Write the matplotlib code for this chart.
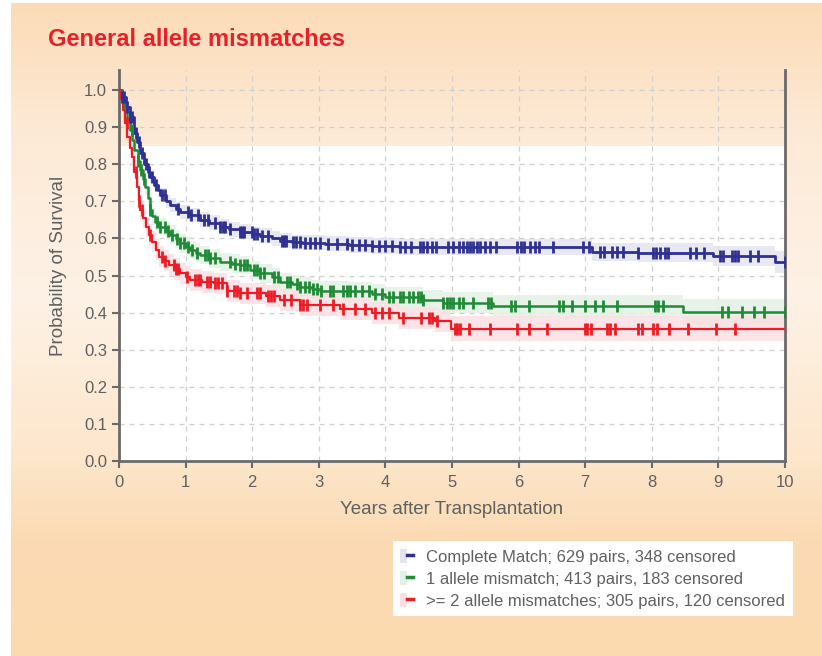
import numpy as np
import matplotlib
matplotlib.use("Agg")
import matplotlib.pyplot as plt
from matplotlib.lines import Line2D
from matplotlib.patches import Patch, Rectangle
from matplotlib.legend_handler import HandlerTuple

plt.rcParams['font.family'] = ['Liberation Sans', 'DejaVu Sans']

# ---- data ----
labels = ["Complete Match; 629 pairs, 348 censored",
          "1 allele mismatch; 413 pairs, 183 censored",
          ">= 2 allele mismatches; 305 pairs, 120 censored"]

match_t = [0, 0.05, 0.1, 0.16, 0.22, 0.27, 0.32, 0.38, 0.43, 0.47, 0.53, 0.58, 0.62,
           0.7, 0.77, 0.85, 0.92, 1.05, 1.22, 1.35, 1.52, 1.65, 1.82, 2.0, 2.12, 2.3,
           2.42, 2.6, 2.75, 3.1, 3.45, 3.8, 4.2, 7.1, 7.79, 8.92, 9.85]
match_s = [1.0, 0.98, 0.955, 0.928, 0.884, 0.86, 0.83, 0.80, 0.78, 0.766, 0.745, 0.73,
           0.717, 0.70, 0.69, 0.68, 0.672, 0.662, 0.65, 0.642, 0.632, 0.625, 0.618, 0.612,
           0.607, 0.600, 0.594, 0.590, 0.588, 0.586, 0.583, 0.580, 0.576, 0.564, 0.562,
           0.553, 0.537]
match_ci = [0.0, 0.005, 0.008, 0.01, 0.012, 0.013, 0.014, 0.015, 0.016, 0.017, 0.017,
            0.018, 0.018, 0.018, 0.019, 0.019, 0.019, 0.019, 0.02, 0.02, 0.02, 0.02, 0.02,
            0.02, 0.02, 0.02, 0.02, 0.02, 0.02, 0.02, 0.021, 0.021, 0.022, 0.024, 0.025,
            0.026, 0.03]
match_cens = [0.05, 0.08, 0.12, 0.16, 0.2, 0.25, 0.3, 0.35, 0.4, 0.45, 0.5, 0.55, 0.64,
              0.69, 0.89, 1.03, 1.08, 1.18, 1.27, 1.34, 1.44, 1.52, 1.56, 1.59, 1.67, 1.82,
              1.85, 1.88, 1.99, 2.03, 2.07, 2.14, 2.24, 2.44, 2.48, 2.51, 2.62, 2.66, 2.72,
              2.79, 2.87, 2.94, 3.02, 3.14, 3.27, 3.42, 3.5, 3.6, 3.7, 3.8, 3.9, 4.0, 4.1,
              4.22, 4.29, 4.39, 4.52, 4.57, 4.63, 4.70, 4.76, 4.94, 5.02, 5.10, 5.17, 5.22,
              5.27, 5.32, 5.37, 5.42, 5.50, 5.57, 5.66, 5.98, 6.03, 6.08, 6.17, 6.25, 6.30,
              6.52, 6.97, 7.06, 7.22, 7.28, 7.40, 7.47, 7.57, 7.80, 8.02, 8.07, 8.12, 8.20,
              8.25, 8.57, 8.67, 8.78, 9.02, 9.07, 9.20, 9.25, 9.30, 9.47, 9.60, 10.0]

one_t = [0, 0.04, 0.08, 0.12, 0.16, 0.2, 0.23, 0.28, 0.32, 0.36, 0.39, 0.43, 0.47, 0.5,
         0.54, 0.58, 0.62, 0.7, 0.77, 0.85, 0.92, 1.0, 1.07, 1.15, 1.22, 1.35, 1.52, 1.7,
         1.82, 1.97, 2.12, 2.3, 2.42, 2.6, 2.72, 2.9, 3.02, 3.45, 3.8, 4.0, 4.56, 4.86,
         5.62, 8.47]
one_s = [1.0, 0.975, 0.946, 0.92, 0.892, 0.865, 0.838, 0.81, 0.784, 0.76, 0.739, 0.71,
         0.677, 0.66, 0.645, 0.638, 0.632, 0.62, 0.61, 0.598, 0.587, 0.578, 0.569, 0.562,
         0.555, 0.546, 0.537, 0.532, 0.528, 0.515, 0.506, 0.495, 0.483, 0.476, 0.47, 0.464,
         0.459, 0.457, 0.45, 0.441, 0.434, 0.427, 0.417, 0.402]
one_ci = [0.0, 0.007, 0.01, 0.013, 0.015, 0.017, 0.018, 0.019, 0.02, 0.021, 0.022, 0.022,
          0.023, 0.023, 0.024, 0.024, 0.024, 0.024, 0.025, 0.025, 0.025, 0.025, 0.025,
          0.025, 0.025, 0.025, 0.025, 0.025, 0.025, 0.025, 0.025, 0.025, 0.025, 0.025,
          0.025, 0.025, 0.025, 0.026, 0.026, 0.027, 0.027, 0.028, 0.03, 0.035]
one_cens = [0.19, 0.29, 0.33, 0.37, 0.47, 0.57, 0.62, 0.69, 0.74, 0.79, 0.87, 0.92, 0.97,
            1.04, 1.09, 1.17, 1.29, 1.33, 1.37, 1.44, 1.67, 1.74, 1.82, 1.87, 1.92, 2.02,
            2.07, 2.12, 2.17, 2.32, 2.39, 2.52, 2.57, 2.67, 2.72, 2.79, 2.85, 2.92, 2.97,
            3.04, 3.17, 3.22, 3.37, 3.42, 3.47, 3.55, 3.65, 3.75, 3.85, 3.95, 4.05, 4.12,
            4.22, 4.27, 4.35, 4.42, 4.49, 4.54, 4.57, 4.87, 4.92, 4.97, 5.02, 5.10, 5.17,
            5.32, 5.54, 5.59, 5.89, 5.95, 6.15, 6.60, 6.67, 6.80, 7.00, 7.15, 7.27, 7.47,
            8.05, 8.10, 8.17, 9.05, 9.15, 9.35, 9.53, 9.68, 10.0]

two_t = [0, 0.03, 0.065, 0.095, 0.125, 0.16, 0.19, 0.23, 0.27, 0.3, 0.32, 0.36, 0.4,
         0.45, 0.5, 0.55, 0.6, 0.67, 0.75, 0.83, 0.92, 1.0, 1.07, 1.25, 1.42, 1.62, 1.82,
         2.2, 2.42, 2.72, 3.32, 3.8, 4.2, 4.75, 4.98]
two_s = [1.0, 0.975, 0.946, 0.91, 0.874, 0.845, 0.82, 0.78, 0.739, 0.70, 0.677, 0.655,
         0.632, 0.61, 0.591, 0.57, 0.551, 0.54, 0.528, 0.517, 0.506, 0.497, 0.488, 0.483,
         0.479, 0.458, 0.452, 0.445, 0.434, 0.42, 0.409, 0.399, 0.386, 0.378, 0.357]
two_ci = [0.0, 0.008, 0.012, 0.015, 0.018, 0.02, 0.022, 0.023, 0.024, 0.025, 0.026,
          0.027, 0.027, 0.028, 0.028, 0.028, 0.029, 0.029, 0.029, 0.029, 0.029, 0.029,
          0.029, 0.029, 0.029, 0.029, 0.029, 0.029, 0.029, 0.03, 0.03, 0.03, 0.03, 0.031,
          0.033]
two_cens = [0.12, 0.26, 0.3, 0.34, 0.47, 0.64, 0.69, 0.82, 0.86, 0.89, 1.02, 1.14, 1.18,
            1.22, 1.32, 1.37, 1.44, 1.49, 1.55, 1.62, 1.72, 1.77, 1.82, 1.92, 2.07, 2.12,
            2.24, 2.28, 2.32, 2.47, 2.59, 2.72, 2.77, 2.82, 3.02, 3.22, 3.37, 3.55, 3.7,
            3.85, 3.95, 4.05, 4.27, 4.54, 4.66, 4.70, 4.77, 5.04, 5.07, 5.12, 5.25, 5.57,
            5.97, 6.15, 6.42, 6.99, 7.03, 7.08, 7.32, 7.37, 7.45, 7.80, 7.85, 8.02, 8.08,
            8.26, 8.55, 8.96, 9.25]

series = [
    (match_t, match_s, match_ci, match_cens, "#2e3192", "#e4e4f1", 2.0),
    (one_t, one_s, one_ci, one_cens, "#1f8b35", "#e3f2e6", 1.8),
    (two_t, two_s, two_ci, two_cens, "#ed1c24", "#fbe0e3", 1.6),
]

text_gray = "#606060"

fig = plt.figure(figsize=(8.22, 6.56), dpi=100)

# background gradient
bg = fig.add_axes([11 / 822, 0, 1 - 11 / 822, 1 - 3 / 656], zorder=-10)
stops = [0.0, 0.2, 0.45, 0.7, 0.82, 1.0]
cols = np.array([[252, 219, 183], [253, 234, 214], [254, 242, 230],
                 [253, 230, 203], [251, 219, 180], [251, 218, 176]]) / 255.0
yy = np.linspace(0, 1, 400)
grad = np.stack([np.interp(yy, stops, cols[:, k]) for k in range(3)], axis=-1)[:, None, :]
bg.imshow(grad, aspect='auto', extent=[0, 1, 0, 1])
bg.axis('off')

ax = fig.add_axes([119 / 822, 1 - 461 / 656, (785 - 119) / 822, (461 - 70) / 656])
ax.patch.set_alpha(0)
ax.add_patch(Rectangle((0, 0), 10, 0.85, facecolor='white', edgecolor='none', zorder=0.1))

for t, s, ci, cens, c, light, lw in series:
    t_ext = np.append(t, 10)
    s_ext = np.append(s, s[-1])
    ci_ext = np.append(ci, ci[-1])
    ax.fill_between(t_ext, s_ext - ci_ext, s_ext + ci_ext, step='post',
                    color=light, alpha=0.85, lw=0, zorder=1)
for t, s, ci, cens, c, light, lw in series:
    t_ext = np.append(t, 10)
    s_ext = np.append(s, s[-1])
    ax.step(t_ext, s_ext, where='post', color=c, lw=lw, zorder=3)
    idx = np.searchsorted(t, cens, side='right') - 1
    ax.plot(cens, np.array(s)[idx], ls='none', marker='|', ms=8, mew=2,
            color=c, zorder=4)

ax.set_xlim(0, 10)
ax.set_ylim(0, 1.054)
ax.set_xticks(range(0, 11))
ax.set_yticks(np.arange(0, 1.01, 0.1))
ax.set_yticklabels([f"{v:.1f}" for v in np.arange(0, 1.01, 0.1)])
ax.set_axisbelow(True)
ax.grid(True, ls=(0, (4, 4)), color='#cfcfcf', lw=0.9)
ax.spines['top'].set_visible(False)
for side in ['left', 'right', 'bottom']:
    ax.spines[side].set_color('#6a6a6a')
    ax.spines[side].set_linewidth(2)
ax.tick_params(colors='#6a6a6a', labelcolor=text_gray, labelsize=12, width=1.5, length=5)
ax.tick_params(axis='x', pad=5)
ax.set_xlabel("Years after Transplantation", fontsize=13.5, color=text_gray, labelpad=8)
ax.set_ylabel("Probability of Survival", fontsize=13.5, color=text_gray, labelpad=12)

fig.text(48 / 822, 1 - 40 / 656, "General allele mismatches", color="#e8202a",
         fontsize=17, fontweight='bold', va='center', ha='left')

handles = [(Patch(facecolor=light, edgecolor='none'),
            Line2D([], [], color=c, lw=2.5)) for _, _, _, _, c, light, _ in series]
leg = fig.legend(handles, labels, loc='upper left', bbox_to_anchor=(0.478, 0.1753),
                 handler_map={tuple: HandlerTuple(ndivide=None, pad=0)},
                 handlelength=0.75, handleheight=1.0, handletextpad=0.8,
                 fontsize=12, frameon=True, fancybox=False, borderpad=0.45,
                 labelspacing=0.35, borderaxespad=0)
leg.get_frame().set_facecolor('white')
leg.get_frame().set_edgecolor('none')
leg.get_frame().set_alpha(1)
for txt in leg.get_texts():
    txt.set_color(text_gray)

fig.savefig("out.png", dpi=100, facecolor='white')
